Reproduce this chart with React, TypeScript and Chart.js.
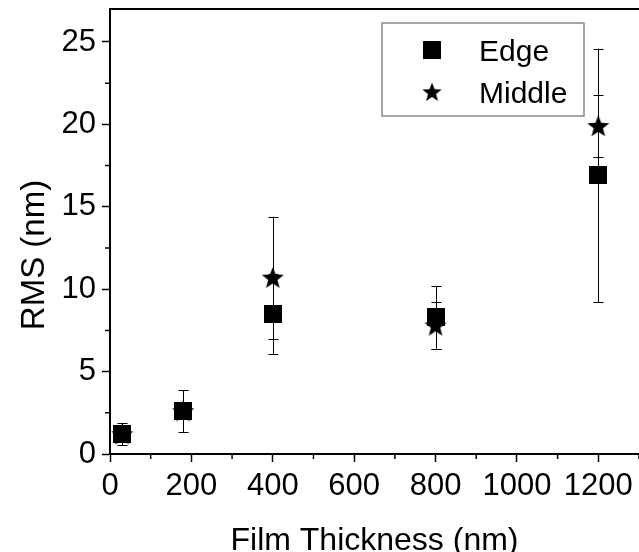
import { useEffect, useRef } from 'react';
import { Chart, registerables } from 'chart.js';

Chart.register(...registerables);

const thickness = [30, 180, 400, 800, 1200];
const edgeRms = [1.2, 2.6, 8.5, 8.3, 16.9];
const edgeErr = [0.68, 1.27, 2.45, 1.9, 7.7];
const middleRms = [1.2, 2.6, 10.7, 7.8, 19.9];
const middleErr = [0.5, 0.2, 3.7, 1.4, 1.9];
const seriesLabels = ['Edge', 'Middle'];
const xTitle = 'Film Thickness (nm)';
const yTitle = 'RMS (nm)';
const xMinorTicks = [100, 300, 500, 700, 900, 1100, 1300];
const yMinorTicks = [2.5, 7.5, 12.5, 17.5, 22.5];

const FONT = "'Liberation Sans', Arial, sans-serif";

function squareMarker(size: number) {
  const c = document.createElement('canvas');
  c.width = size;
  c.height = size;
  const ctx = c.getContext('2d')!;
  ctx.fillStyle = '#000';
  ctx.fillRect(0, 0, size, size);
  return c;
}

function starMarker(size: number, outer: number) {
  const c = document.createElement('canvas');
  c.width = size;
  c.height = size;
  const ctx = c.getContext('2d')!;
  const cx = size / 2;
  const cy = size / 2 + 0.8;
  const inner = outer * 0.42;
  ctx.fillStyle = '#000';
  ctx.beginPath();
  for (let k = 0; k < 10; k++) {
    const r = k % 2 === 0 ? outer : inner;
    const a = -Math.PI / 2 + (k * Math.PI) / 5;
    const px = cx + r * Math.cos(a);
    const py = cy + r * Math.sin(a);
    if (k === 0) ctx.moveTo(px, py);
    else ctx.lineTo(px, py);
  }
  ctx.closePath();
  ctx.fill();
  return c;
}

const errorBars = {
  id: 'errorBars',
  beforeDatasetsDraw(chart: any) {
    const { ctx, scales } = chart;
    const x = scales.x;
    const y = scales.y;
    ctx.save();
    ctx.strokeStyle = '#000';
    ctx.lineWidth = 1;
    chart.data.datasets.forEach((ds: any) => {
      const errs: number[] = ds.errors || [];
      ds.data.forEach((pt: any, i: number) => {
        const e = errs[i];
        if (!e) return;
        const px = Math.round(x.getPixelForValue(pt.x)) + 0.5;
        const t = y.getPixelForValue(pt.y + e);
        const b = y.getPixelForValue(pt.y - e);
        ctx.beginPath();
        ctx.moveTo(px, t);
        ctx.lineTo(px, b);
        ctx.moveTo(px - 5, Math.round(t) + 0.5);
        ctx.lineTo(px + 5, Math.round(t) + 0.5);
        ctx.moveTo(px - 5, Math.round(b) + 0.5);
        ctx.lineTo(px + 5, Math.round(b) + 0.5);
        ctx.stroke();
      });
    });
    ctx.restore();
  },
};

const frameAndMinor = {
  id: 'frameAndMinor',
  afterDraw(chart: any) {
    const { ctx, chartArea, scales } = chart;
    const x = scales.x;
    const y = scales.y;
    ctx.save();
    ctx.strokeStyle = '#000';
    ctx.lineWidth = 2;
    ctx.beginPath();
    ctx.moveTo(chartArea.left - 1, chartArea.top);
    ctx.lineTo(chartArea.right + 2, chartArea.top);
    ctx.stroke();
    ctx.lineWidth = 1.5;
    ctx.beginPath();
    xMinorTicks.forEach((v) => {
      const px = x.getPixelForValue(v);
      if (px > chartArea.right + 1) return;
      ctx.moveTo(px, chartArea.bottom);
      ctx.lineTo(px, chartArea.bottom + 5);
    });
    yMinorTicks.forEach((v) => {
      const py = y.getPixelForValue(v);
      ctx.moveTo(chartArea.left, py);
      ctx.lineTo(chartArea.left - 5, py);
    });
    ctx.stroke();

    // axis titles
    ctx.fillStyle = '#000';
    ctx.font = `32px ${FONT}`;
    ctx.textAlign = 'center';
    ctx.textBaseline = 'alphabetic';
    ctx.fillText(xTitle, (chartArea.left + chartArea.right) / 2, chartArea.bottom + 96);
    ctx.save();
    ctx.translate(44, chartArea.bottom - 199);
    ctx.rotate(-Math.PI / 2);
    ctx.font = `33px ${FONT}`;
    ctx.fillText(yTitle, 0, 0);
    ctx.restore();
    ctx.restore();
  },
};

const boxedLegend = {
  id: 'boxedLegend',
  afterDraw(chart: any) {
    const { ctx, chartArea } = chart;
    const left = chartArea.right - 257;
    const top = chartArea.top + 14;
    const w = 202;
    const h = 93;
    ctx.save();
    ctx.fillStyle = '#fff';
    ctx.fillRect(left, top, w, h);
    ctx.strokeStyle = '#8a8a8a';
    ctx.lineWidth = 1.5;
    ctx.strokeRect(left, top, w, h);
    ctx.fillStyle = '#000';
    ctx.font = `30px ${FONT}`;
    ctx.textBaseline = 'alphabetic';
    ctx.textAlign = 'left';
    chart.data.datasets.forEach((ds: any, i: number) => {
      const cy = top + 27 + i * 42;
      const img = ds.pointStyle as HTMLCanvasElement;
      const s = i === 0 ? 18 : 21;
      ctx.drawImage(img, left + 50 - s / 2, cy - s / 2, s, s);
      ctx.fillText(ds.label, left + 97, cy + 10.5);
    });
    ctx.restore();
  },
};

function zeroPad(scale: any) {
  scale.paddingTop = 0;
  scale.paddingBottom = 0;
  scale.paddingLeft = 0;
  scale.paddingRight = 0;
}

export default function App() {
  const ref = useRef<HTMLCanvasElement | null>(null);

  useEffect(() => {
    if (!ref.current) return;
    const sq = squareMarker(18);
    const st = starMarker(24, 11.6);
    const chart = new Chart(ref.current, {
      type: 'scatter',
      data: {
        datasets: [
          {
            label: seriesLabels[0],
            data: thickness.map((t, i) => ({ x: t, y: edgeRms[i] })),
            errors: edgeErr,
            pointStyle: sq,
            pointRadius: 9,
            backgroundColor: '#000',
            borderColor: '#000',
          } as any,
          {
            label: seriesLabels[1],
            data: thickness.map((t, i) => ({ x: t, y: middleRms[i] })),
            errors: middleErr,
            pointStyle: st,
            pointRadius: 12,
            backgroundColor: '#000',
            borderColor: '#000',
          } as any,
        ],
      },
      options: {
        responsive: false,
        animation: false,
        events: [],
        layout: { autoPadding: false, padding: { top: 9, right: 0, left: 0, bottom: 0 } },
        plugins: {
          legend: { display: false },
          tooltip: { enabled: false },
        },
        scales: {
          x: {
            type: 'linear',
            min: 0,
            max: 1300,
            border: { display: true, color: '#000', width: 2 },
            grid: {
              drawOnChartArea: false,
              drawTicks: true,
              tickLength: 8,
              tickWidth: 1.5,
              tickColor: '#000',
            },
            ticks: {
              stepSize: 200,
              includeBounds: false,
              color: '#000',
              padding: 6,
              maxRotation: 0,
              autoSkip: false,
              font: { family: FONT, size: 31 },
              callback: (v: any) => String(v),
            },
            title: { display: false },
            afterFit(scale: any) {
              scale.height = 98;
              zeroPad(scale);
              if (scale._margins) {
                scale._margins.right = 0;
                scale.width = scale._length = scale.chart.width - scale._margins.left;
              }
            },
          },
          y: {
            type: 'linear',
            min: 0,
            max: 27,
            border: { display: true, color: '#000', width: 2 },
            grid: {
              drawOnChartArea: false,
              drawTicks: true,
              tickLength: 8,
              tickWidth: 1.5,
              tickColor: '#000',
            },
            ticks: {
              stepSize: 5,
              includeBounds: false,
              color: '#000',
              padding: 6,
              font: { family: FONT, size: 31 },
              callback: (v: any) => String(v),
            },
            title: { display: false },
            afterFit(scale: any) {
              scale.width = 110;
              zeroPad(scale);
              if (scale._margins) {
                scale._margins.top = 0;
                scale._margins.bottom = 0;
              }
            },
          },
        },
      },
      plugins: [errorBars, frameAndMinor, boxedLegend],
    });
    return () => chart.destroy();
  }, []);

  return (
    <canvas
      ref={ref}
      width={639}
      height={552}
      style={{ position: 'absolute', left: 0, top: 0, display: 'block' }}
    />
  );
}
